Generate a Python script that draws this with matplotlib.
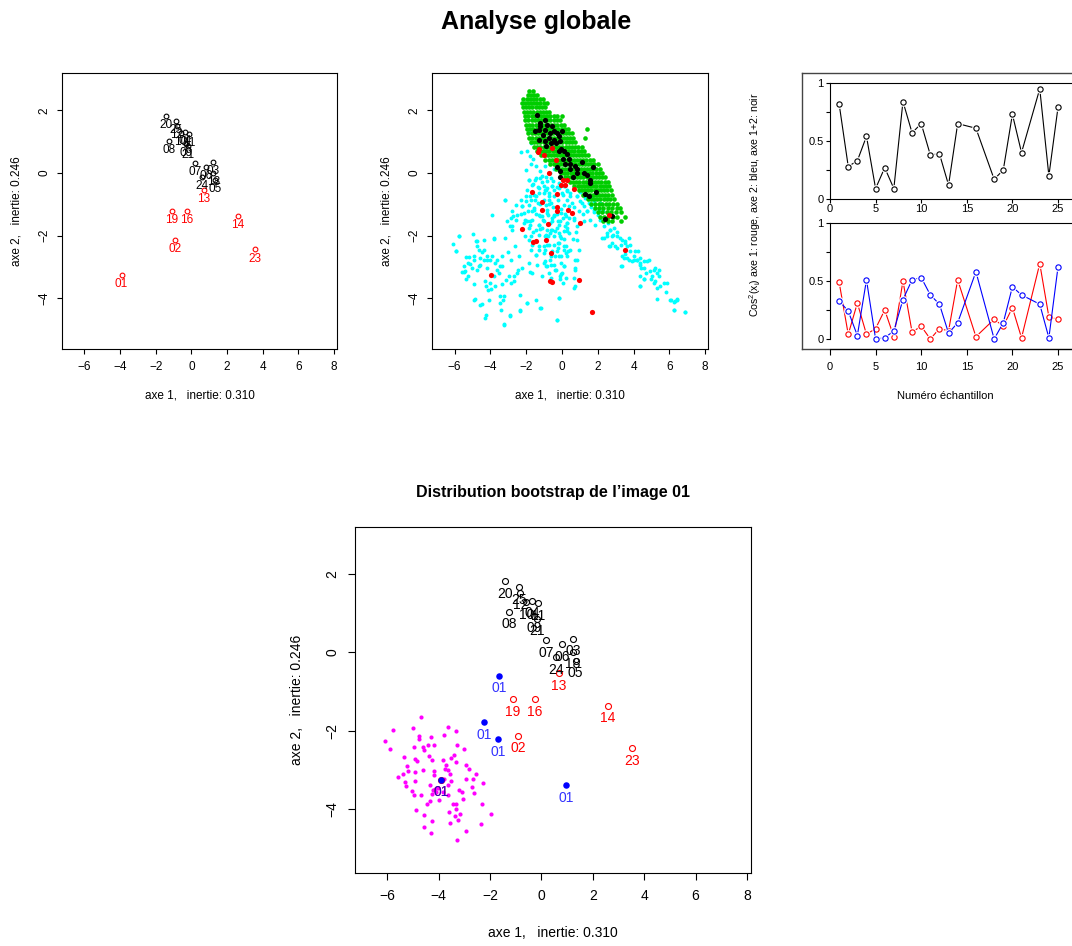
import numpy as np
import matplotlib
matplotlib.use("Agg")
import matplotlib.pyplot as plt

plt.rcParams['font.family'] = ['Liberation Sans', 'DejaVu Sans']
plt.rcParams['mathtext.default'] = 'regular'

W, H = 1072, 946

# --- images: name, coordinates on factorial axes 1 and 2, red = atypical
names = ['01', '02', '03', '04', '05', '06', '07', '08', '09', '10', '11',
         '12', '13', '14', '16', '18', '19', '20', '21', '23', '24', '25']
num = [1, 2, 3, 4, 5, 6, 7, 8, 9, 10, 11, 12, 13, 14, 16, 18, 19, 20, 21, 23, 24, 25]
axe1 = [-3.92, -0.90, 1.22, -0.35, 1.33, 0.81, 0.19, -1.26, -0.30, -0.59, -0.12,
        -0.82, 0.68, 2.59, -0.25, 1.22, -1.11, -1.43, -0.18, 3.54, 0.58, -0.87]
axe2 = [-3.25, -2.13, 0.35, 1.31, -0.22, 0.20, 0.31, 1.03, 0.93, 1.28, 1.25,
        1.51, -0.54, -1.36, -1.20, 0.01, -1.20, 1.81, 0.85, -2.44, -0.13, 1.66]
red = ['01', '02', '13', '14', '16', '19', '23']

# --- cos2 per image
cos_ax1 = [0.49, 0.04, 0.31, 0.04, 0.09, 0.25, 0.02, 0.50, 0.06, 0.11, 0.00,
           0.09, 0.07, 0.51, 0.02, 0.17, 0.11, 0.27, 0.01, 0.65, 0.19, 0.17]
cos_ax2 = [0.33, 0.24, 0.03, 0.51, 0.00, 0.01, 0.07, 0.34, 0.51, 0.53, 0.38,
           0.30, 0.05, 0.14, 0.58, 0.00, 0.14, 0.45, 0.38, 0.30, 0.01, 0.62]
cos_12 = [0.82, 0.28, 0.33, 0.54, 0.09, 0.27, 0.09, 0.84, 0.57, 0.65, 0.38,
          0.39, 0.12, 0.65, 0.61, 0.17, 0.25, 0.73, 0.40, 0.95, 0.20, 0.79]

# --- bootstrap replicates, global view
cyan_pts = [
    (-2.29, 0.67), (-1.43, 0.21), (-1.77, 0.55), (-1.49, -0.21), (-1.82, -0.21), (-1.21, -0.16),
    (-0.88, -0.14), (-0.65, 0.00), (-0.93, 0.21), (-0.43, 0.11), (-1.96, -0.53), (-1.77, -0.74),
    (-1.55, -0.72), (-1.30, -0.64), (-1.02, -0.64), (-0.84, -0.48), (-0.56, -0.43), (-0.19, -0.48),
    (0.09, -0.43), (0.28, -0.59), (0.47, -0.74), (0.84, -0.74), (1.02, -0.90), (1.21, -1.06),
    (1.49, -0.96), (1.77, -0.90), (2.05, -1.17), (2.14, -1.49), (2.33, -1.70), (2.70, -1.81),
    (2.85, -1.99), (3.07, -2.02), (3.35, -2.13), (3.54, -2.23), (3.63, -2.34), (3.82, -2.50),
    (4.00, -2.66), (4.19, -2.77), (4.38, -2.87), (4.56, -2.82), (4.75, -2.82), (4.23, -2.50),
    (4.93, -3.14), (5.31, -3.19), (5.12, -3.51), (5.49, -3.62), (5.68, -3.51), (6.05, -4.04),
    (6.42, -4.04), (6.24, -4.36), (6.89, -4.44), (4.38, -3.62), (4.56, -3.40), (3.30, -2.98),
    (3.44, -2.71), (3.72, -2.77), (2.79, -2.23), (2.98, -2.34), (2.51, -2.02), (2.33, -2.07),
    (2.70, -2.34), (-1.82, 1.30), (-1.96, 0.69), (-1.75, 0.95),
    (-6.09, -2.27), (-5.90, -2.50), (-5.77, -2.00), (-5.59, -3.17), (-5.40, -3.14), (-5.34, -3.40),
    (-5.21, -2.69), (-4.97, -1.94), (-4.93, -3.56), (-4.90, -4.04), (-4.80, -2.18), (-4.75, -2.34),
    (-4.66, -2.45), (-4.56, -4.20), (-4.47, -2.53), (-4.38, -2.15), (-4.32, -4.63), (-4.28, -3.44),
    (-4.19, -3.03), (-4.15, -3.75), (-4.10, -4.04), (-4.00, -3.51), (-3.91, -1.34), (-3.82, -2.07),
    (-3.72, -2.87), (-3.63, -3.09), (-3.54, -3.19), (-3.44, -3.94), (-3.41, -4.36), (-3.35, -2.66),
    (-3.30, -4.04), (-3.26, -4.84), (-3.17, -0.85), (-3.11, -3.43), (-3.00, -2.51), (-2.92, -4.58),
    (-2.89, -1.70), (-2.83, -3.51), (-2.74, -1.38), (-2.61, -2.34), (-2.51, -3.19), (-2.48, -3.09),
    (-2.36, -3.89), (-2.33, -4.39), (-2.23, -1.06), (-2.14, -1.60), (-2.09, -1.49), (-1.96, -4.15),
    (-1.86, -2.13), (-1.81, -1.65), (-1.77, -3.17), (-1.71, -2.45), (-1.58, -1.17), (-1.43, -2.61),
    (-1.40, -2.93), (-1.30, -1.65), (-1.21, -1.38), (-1.12, -3.30), (-1.02, -2.34), (-0.93, -2.82),
    (-0.84, -2.98), (-0.80, -2.02), (-0.74, -3.19), (-0.69, -1.60), (-0.65, -1.92), (-0.61, -2.93),
    (-0.56, -2.50), (-0.47, -2.29), (-0.37, -2.66), (-0.32, -3.09), (-0.28, -4.68), (-0.24, -2.23),
    (-0.19, -3.99), (-0.13, -3.40), (-0.06, -2.66), (0.00, -3.19), (0.06, -3.51), (0.09, -2.98),
    (0.13, -2.34), (0.19, -1.70), (0.28, -2.66), (0.32, -2.50), (0.47, -2.45), (0.65, -3.67),
    (0.74, -3.09), (0.84, -2.77), (0.93, -2.45), (-1.15, -4.31), (-1.43, -4.04), (-1.77, -1.54),
    (-2.05, -2.02), (-2.23, -3.03), (-2.42, -2.66), (-2.70, -3.30), (-2.79, -1.81), (-3.07, -1.54),
    (-3.17, -2.07), (-3.44, -2.98), (-3.72, -3.62), (-3.82, -3.30), (-3.91, -2.64), (-4.00, -2.77),
    (-4.19, -2.64), (-4.38, -2.77), (-4.56, -2.71), (-4.60, -2.93), (-4.75, -3.09), (-4.93, -2.66),
    (-5.12, -2.90), (-5.27, -3.30), (-5.49, -2.98),
    (-1.60, -0.35), (-1.35, -0.45), (-1.10, -0.30), (-0.95, -0.55), (-0.70, -0.65), (-0.45, -0.75),
    (-0.20, -0.85), (0.05, -0.70), (0.30, -0.85), (0.55, -0.95), (0.70, -1.10), (0.95, -1.20),
    (1.20, -1.30), (1.40, -1.20), (1.60, -1.10), (1.80, -1.25), (2.00, -1.35), (-1.50, -0.85),
    (-1.25, -1.00), (-1.00, -0.85), (-0.75, -1.00), (-0.50, -1.10), (-0.30, -1.30), (-0.05, -1.15),
    (0.15, -1.30), (0.40, -1.45), (0.65, -1.50), (-1.45, -1.30), (-1.05, -1.50), (-0.80, -1.35),
    (-0.55, -1.45), (-0.20, -1.55), (0.05, -1.45), (0.30, -1.75), (-1.60, -1.90), (-1.20, -1.80),
    (-0.95, -2.00), (-0.40, -1.85), (-0.10, -2.00), (0.10, -2.10), (-1.30, -2.45), (-0.75, -2.30),
    (-0.20, -2.40), (0.60, -2.10), (0.80, -1.90), (-2.00, -0.90), (-2.30, -1.30), (-1.90, -1.20),
    (1.00, -0.60), (1.30, -0.80), (1.70, -0.75), (2.10, -0.95), (2.30, -1.20), (2.60, -1.60),
    (2.90, -1.75), (3.10, -1.90), (3.30, -2.30), (3.50, -2.60), (3.80, -2.30), (3.90, -2.80),
    (4.10, -2.50), (4.40, -3.05), (4.70, -3.20), (5.00, -3.40), (5.20, -3.05), (5.45, -3.30),
    (5.80, -3.80), (6.30, -4.10), (-1.75, 0.30), (-2.00, 0.10), (-1.60, 0.45), (-1.20, 0.05),
    (-0.50, -0.25), (-0.25, -0.45),
    (-1.84, -0.21), (-1.47, -0.16), (-1.10, -0.11), (-0.82, -0.27), (-0.63, -0.16), (-1.66, -0.37),
    (-1.28, -0.48), (-0.91, -0.53), (-0.54, -0.43), (-2.03, -0.74), (-2.31, -0.85), (-1.75, -0.85),
    (-1.47, -0.74), (-0.73, -0.74), (0.02, -0.64), (0.30, -0.53), (-2.59, -1.01), (-2.22, -1.06),
    (-1.84, -1.01), (-1.56, -1.12), (-1.32, -0.96), (-0.91, -1.01), (-0.63, -0.96), (0.11, -1.01),
    (0.39, -1.06), (-2.77, -1.22), (-2.50, -1.33), (-2.12, -1.28), (-1.66, -1.22), (-1.28, -1.33),
    (-0.82, -1.28), (-0.45, -1.33), (-0.07, -1.28), (0.20, -1.38), (-2.87, -1.44), (-2.59, -1.49),
    (-1.94, -1.54), (-1.66, -1.49), (-1.28, -1.65), (-1.01, -1.54), (-0.54, -1.54), (-0.17, -1.65),
    (0.30, -1.60), (-2.81, -1.70), (-1.84, -1.76), (-1.47, -1.81), (-1.10, -1.76), (-0.63, -1.81),
    (-0.26, -1.76), (0.11, -1.86), (0.39, -1.91), (-1.75, -2.02), (-1.28, -1.97), (-0.91, -1.97),
    (-0.45, -2.02), (-0.07, -2.07), (-1.66, -2.29), (-1.28, -2.34), (-0.82, -2.29), (-0.17, -2.23),
    (0.20, -2.34), (-1.47, -2.61), (-1.01, -2.55), (-0.63, -2.66), (-0.26, -2.50), (0.20, -2.55),
    (-1.84, -2.87), (-0.91, -2.98), (-0.45, -2.93), (-0.07, -2.87), (-1.66, -3.19), (-0.63, -3.35),
    (-0.07, -3.24), (0.20, -3.35),
    (-5.75, -2.00), (-5.90, -2.48), (-5.34, -2.68), (-5.23, -2.89), (-5.47, -3.17), (-4.92, -2.77),
    (-4.64, -2.98), (-4.77, -2.18), (-4.36, -2.45), (-4.17, -2.77), (-3.80, -2.11), (-3.61, -2.77),
    (-3.33, -2.98), (-2.96, -3.30), (-2.68, -3.46), (-3.33, -3.56), (-4.26, -3.62), (-3.98, -3.72),
    (-4.86, -4.02), (-4.49, -4.18), (-3.44, -4.15), (-3.26, -3.94), (-4.26, -4.52), (-2.92, -4.55),
    (-2.35, -4.41), (-3.26, -4.81), (-1.94, -4.15), (-2.87, -2.77), (-5.01, -3.03), (-3.18, -0.85),
    (-1.02, -0.43), (-0.74, -0.85), (-0.47, -0.53), (-0.19, -0.32), (0.19, -0.43), (0.47, -0.64),
    (0.84, -0.74), (1.12, -0.96), (1.40, -1.22), (1.77, -1.17), (1.58, -1.49), (1.86, -1.65),
    (-0.84, -1.17), (-0.47, -1.38), (-0.09, -1.54), (0.28, -1.60), (0.65, -1.44), (-0.56, -1.81),
    (-0.19, -1.91), (0.28, -1.86), (0.84, -2.13), (2.23, -2.07), (2.51, -1.91), (2.70, -1.81),
    (2.79, -2.02), (3.26, -2.07), (3.54, -2.18), (3.72, -2.07), (2.61, -2.34), (3.07, -2.39),
    (3.35, -2.66), (3.63, -2.71), (4.00, -2.77), (4.19, -2.77), (4.38, -2.71), (4.84, -2.77),
    (3.35, -2.98), (4.38, -2.93), (4.56, -3.03), (4.38, -3.30), (4.56, -3.40), (5.12, -3.09),
    (5.40, -3.09), (5.03, -3.30), (5.21, -3.46), (5.31, -3.67), (5.87, -3.51), (4.38, -3.62),
    (5.31, -4.02), (6.09, -4.04), (6.42, -4.02), (6.24, -4.13), (6.24, -4.39), (6.89, -4.44),
    (-1.12, -1.38), (-0.84, -1.81), (-0.93, -2.45), (-1.02, -2.87), (-0.65, -2.77), (-0.19, -2.66),
    (0.09, -2.45), (0.09, -2.98), (-0.37, -3.09), (-0.09, -3.30), (0.74, -2.77), (0.74, -3.03),
    (0.65, -3.35), (0.74, -3.62), (-0.19, -3.99), (-0.28, -4.68), (-1.21, -4.31), (0.84, -1.70),
    (1.21, -1.54),
]

# green cloud: rows of (axe2, [axe1 values]) estimated across the dense band
green_rows = [
    (2.62, [-1.85, -1.62]),
    (2.50, [-1.92, -1.75, -1.58, -1.40]),
    (2.37, [-2.15, -1.98, -1.80, -1.62, -1.45, -1.25, -1.05]),
    (2.24, [-2.25, -2.08, -1.90, -1.72, -1.55, -1.38, -1.20, -1.02, -0.86]),
    (2.10, [-2.18, -2.00, -1.83, -1.65, -1.47, -1.30, -1.12, -0.95]),
    (1.96, [-2.12, -1.95, -1.77, -1.60, -1.42, -1.25, -1.07, -0.90, -0.72]),
    (1.82, [-2.05, -1.88, -1.70, -1.52, -1.35, -1.17, -1.00, -0.82, -0.65, -0.47, -0.28, 0.00]),
    (1.68, [-2.05, -1.87, -1.70, -1.52, -1.35, -1.17, -1.00, -0.82, -0.65, -0.47, -0.30, -0.12]),
    (1.54, [-2.00, -1.82, -1.65, -1.47, -1.30, -1.12, -0.95, -0.77, -0.60, -0.42, -0.25, -0.07, 0.12]),
    (1.40, [-1.95, -1.77, -1.60, -1.42, -1.25, -1.07, -0.90, -0.72, -0.55, -0.37, -0.20, -0.02,
            0.15, 0.35, 1.40]),
    (1.26, [-1.88, -1.70, -1.53, -1.35, -1.18, -1.00, -0.83, -0.65, -0.48, -0.30, -0.13, 0.05,
            0.22, 0.40, 0.58]),
    (1.12, [-1.82, -1.65, -1.47, -1.30, -1.12, -0.95, -0.77, -0.60, -0.42, -0.25, -0.07, 0.10,
            0.28, 0.45, 0.63, 1.30]),
    (0.98, [-1.72, -1.55, -1.37, -1.20, -1.02, -0.85, -0.67, -0.50, -0.32, -0.15, 0.03, 0.20,
            0.38, 0.55, 0.73]),
    (0.84, [-1.55, -1.38, -1.20, -1.03, -0.85, -0.68, -0.50, -0.33, -0.15, 0.02, 0.20, 0.37,
            0.55, 0.72, 0.90, 1.10]),
    (0.70, [-1.40, -1.22, -1.05, -0.87, -0.70, -0.52, -0.35, -0.17, 0.00, 0.18, 0.35, 0.53,
            0.70, 0.88, 1.05, 1.25]),
    (0.56, [-1.15, -0.97, -0.80, -0.62, -0.45, -0.27, -0.10, 0.08, 0.25, 0.43, 0.60, 0.78,
            0.95, 1.13, 1.30, 1.48]),
    (0.42, [-0.92, -0.75, -0.57, -0.40, -0.22, -0.05, 0.13, 0.30, 0.48, 0.65, 0.83, 1.00,
            1.18, 1.35, 1.55, 1.72]),
    (0.28, [-0.65, -0.47, -0.30, -0.12, 0.05, 0.23, 0.40, 0.58, 0.75, 0.93, 1.10, 1.28,
            1.45, 1.63, 1.80, 2.00]),
    (0.14, [-0.35, -0.17, 0.00, 0.18, 0.35, 0.53, 0.70, 0.88, 1.05, 1.23, 1.40, 1.58,
            1.75, 1.93, 2.12]),
    (0.00, [-0.05, 0.13, 0.30, 0.48, 0.65, 0.83, 1.00, 1.18, 1.35, 1.53, 1.70, 1.88, 2.05, 2.25]),
    (-0.14, [0.15, 0.33, 0.50, 0.68, 0.85, 1.03, 1.20, 1.38, 1.55, 1.73, 1.90, 2.08, 2.25, 2.42]),
    (-0.28, [0.45, 0.62, 0.80, 0.97, 1.15, 1.32, 1.50, 1.67, 1.85, 2.02, 2.20, 2.38, 2.55]),
    (-0.42, [0.70, 0.88, 1.05, 1.23, 1.40, 1.58, 1.75, 1.93, 2.10, 2.28, 2.45, 2.65]),
    (-0.56, [0.95, 1.12, 1.30, 1.47, 1.65, 1.82, 2.00, 2.17, 2.35, 2.52, 2.72]),
    (-0.70, [1.20, 1.38, 1.55, 1.73, 1.90, 2.08, 2.25, 2.43, 2.60, 2.80]),
    (-0.84, [1.45, 1.63, 1.80, 1.98, 2.15, 2.33, 2.50, 2.70, 2.92]),
    (-0.98, [1.65, 1.85, 2.05, 2.25, 2.45, 2.65, 2.88, 3.05]),
    (-1.12, [1.85, 2.05, 2.30, 2.55, 2.80, 3.05, 3.25]),
    (-1.26, [2.00, 2.25, 2.50, 2.75, 3.00, 3.30]),
    (-1.40, [2.10, 2.35, 2.60, 2.85, 3.10, 3.55]),
    (-1.52, [2.30, 2.55, 2.80, 3.30]),
]

black_pts = [
    (-1.40, 1.84), (-1.21, 1.60), (-0.93, 1.68), (-0.84, 1.54), (-1.53, 1.35), (-1.30, 1.38),
    (-1.27, 1.06), (-1.06, 1.22), (-0.93, 1.38), (-0.65, 1.28), (-0.47, 1.33), (-0.28, 1.28),
    (-0.19, 1.17), (-0.43, 1.06), (-0.74, 1.12), (-0.88, 0.87), (-0.61, 0.94), (-0.32, 0.94),
    (-0.09, 1.01), (-0.06, 0.77), (-0.19, 0.69), (0.09, 0.69), (0.28, 0.59), (0.06, 0.45),
    (0.41, 0.43), (0.19, 0.29), (0.47, 0.27), (-0.28, 0.18), (-0.13, 0.07), (0.74, 0.21),
    (0.84, 0.11), (1.14, 0.35), (1.73, 0.20), (1.25, 0.00), (1.40, -0.05), (1.55, -0.21),
    (1.58, -0.32), (-0.09, -0.13), (0.61, -0.14), (1.27, -0.68), (1.51, -0.74), (1.88, -0.61),
    (2.40, -1.47), (2.81, -1.39), (0.47, 0.11), (0.84, 0.00), (-1.21, 1.49), (-0.56, 1.49),
    (0.00, 1.33), (-0.93, 1.01),
]

red_pts = [
    (-1.30, 0.78), (-1.34, 0.67), (-0.54, 0.79), (-0.99, 0.56), (-0.34, 0.40), (-0.74, 0.00),
    (0.06, -0.21), (0.28, -0.21), (-0.04, -0.39), (0.19, -0.39), (0.69, -0.52), (-1.66, -0.60),
    (-0.30, -0.66), (-1.12, -0.94), (-1.12, -1.19), (-0.26, -1.09), (-0.26, -1.20), (0.32, -1.19),
    (0.54, -1.29), (-0.80, -1.63), (1.02, -1.59), (-2.23, -1.80), (-0.88, -2.14), (-1.64, -2.21),
    (-1.47, -2.18), (-0.60, -2.56), (-3.95, -3.27), (-0.65, -3.44), (-0.54, -3.49), (0.95, -3.41),
    (1.69, -4.43), (2.61, -1.35), (3.54, -2.45),
]

# --- bootstrap distribution of image 01
boot01_x = [-1.66, -2.23, -1.69, 0.95, -3.92]
boot01_y = [-0.60, -1.78, -2.21, -3.39, -3.25]
magenta_pts = [
    (-4.69, -1.65), (-5.78, -1.99), (-6.08, -2.26), (-5.90, -2.47), (-4.99, -1.93), (-4.77, -2.13),
    (-4.75, -2.21), (-4.32, -2.15), (-4.19, -2.36), (-4.40, -2.37), (-3.81, -2.10), (-3.63, -1.89),
    (-3.31, -2.00), (-4.63, -2.40), (-4.56, -2.48), (-4.95, -2.42), (-5.34, -2.67), (-4.94, -2.73),
    (-4.86, -2.78), (-4.38, -2.64), (-4.28, -2.75), (-3.84, -2.75), (-3.54, -2.69), (-3.40, -2.61),
    (-3.27, -2.36), (-3.02, -2.47), (-3.71, -2.88), (-3.76, -2.96), (-3.63, -2.99), (-5.24, -2.90),
    (-5.19, -3.02), (-5.39, -3.10), (-5.60, -3.17), (-4.91, -3.05), (-4.62, -2.99), (-4.19, -3.02),
    (-4.20, -3.13), (-3.57, -3.09), (-3.31, -2.80), (-2.92, -2.86), (-2.82, -2.97), (-2.56, -3.09),
    (-5.33, -3.30), (-5.29, -3.40), (-4.91, -3.27), (-4.33, -3.37), (-4.24, -3.51), (-4.16, -3.49),
    (-4.01, -3.45), (-3.65, -3.38), (-3.85, -3.55), (-3.62, -3.64), (-3.22, -3.51), (-3.08, -3.57),
    (-2.92, -3.23), (-2.66, -3.23), (-2.70, -3.43), (-2.62, -3.58), (-2.27, -3.33), (-5.03, -3.54),
    (-4.98, -3.63), (-4.68, -3.63), (-4.28, -3.62), (-3.98, -3.75), (-4.47, -3.87), (-4.34, -3.79),
    (-3.46, -3.86), (-3.31, -3.86), (-3.33, -3.99), (-3.59, -4.07), (-3.18, -4.11), (-2.30, -3.87),
    (-4.88, -4.02), (-4.56, -4.15), (-4.25, -4.29), (-4.58, -4.46), (-4.29, -4.59), (-3.55, -4.35),
    (-3.35, -4.17), (-3.23, -4.28), (-2.35, -4.38), (-2.92, -4.54), (-1.96, -4.12), (-3.30, -4.78),
    (-4.09, -3.55), (-3.88, -3.29), (-3.53, -3.27), (-3.04, -3.74), (-3.81, -3.22),
]

xticks = [-6, -4, -2, 0, 2, 4, 6, 8]
yticks = [-4, -2, 0, 2]
xlim = (-7.26, 8.16)
ylim = (-5.62, 3.19)
xlab = 'axe 1,   inertie: 0.310'
ylab = 'axe 2,   inertie: 0.246'

fig = plt.figure(figsize=(W / 100, H / 100), dpi=100)


def px_axes(l, t, r, b):
    return fig.add_axes([l / W, 1 - b / H, (r - l) / W, (b - t) / H])


def setup_factor_axes(ax, fs, tl, pad, xl_off, yl_off):
    ax.set_xlim(*xlim)
    ax.set_ylim(*ylim)
    ax.set_xticks(xticks)
    ax.set_yticks(yticks)
    ax.tick_params(labelsize=fs, length=tl, width=0.8, pad=pad)
    for lab in ax.get_yticklabels():
        lab.set_rotation(90)
        lab.set_va('center')
    for s in ax.spines.values():
        s.set_linewidth(0.8)
    ax.text(0.5, xl_off, xlab, transform=ax.transAxes, ha='center', va='center', fontsize=fs)
    ax.text(yl_off, 0.5, ylab, transform=ax.transAxes, ha='center', va='center',
            rotation=90, fontsize=fs)


def draw_images(ax, ms, fs, off):
    for n, x, y in zip(names, axe1, axe2):
        c = 'red' if n in red else 'black'
        ax.plot(x, y, 'o', ms=ms, mfc='none', mec=c, mew=0.8, zorder=5)
        ax.annotate(n, (x, y), xytext=(0, -off), textcoords='offset points',
                    ha='center', va='center', fontsize=fs, color=c, zorder=6)


fig.text(0.5, 1 - 22 / H, 'Analyse globale', ha='center', va='center',
         fontsize=18, fontweight='bold')

# panel 1: images on the factorial plane
ax1 = px_axes(62, 73, 337, 349)
setup_factor_axes(ax1, 8.5, 3.6, 5, -0.17, -0.165)
draw_images(ax1, 3.4, 8.5, 6.6)

# panel 2: all bootstrap replicates
ax2 = px_axes(432, 73, 708, 349)
setup_factor_axes(ax2, 8.5, 3.6, 5, -0.17, -0.165)
cy = np.array(cyan_pts)
ax2.scatter(cy[:, 0], cy[:, 1], s=8, c='cyan', linewidths=0, zorder=1)
gx = [x for y, xs in green_rows for x in xs]
gy = [y for y, xs in green_rows for x in xs]
ax2.scatter(gx, gy, s=11, c='#00CD00', linewidths=0, zorder=2)
bk = np.array(black_pts)
ax2.scatter(bk[:, 0], bk[:, 1], s=14, c='black', linewidths=0, zorder=3)
rd = np.array(red_pts)
ax2.scatter(rd[:, 0], rd[:, 1], s=14, c='red', linewidths=0, zorder=4)

# panel 3: cos2 quality of representation
outer = px_axes(802, 73, 1100, 349)
outer.set_xticks([])
outer.set_yticks([])
for s in outer.spines.values():
    s.set_linewidth(1.0)
    s.set_color('#444444')
outer.patch.set_alpha(0)

xmax_in = (1100 - 830) / 9.12


def type_b(ax, x, y, c, z):
    ax.plot(x, y, color=c, lw=0.8, zorder=z, clip_on=False)
    ax.plot(x, y, 'o', ms=6.3, mfc='white', mec='none', zorder=z + 0.1, clip_on=False)
    ax.plot(x, y, 'o', ms=3.8, mfc='none', mec=c, mew=0.8, zorder=z + 0.2, clip_on=False)


def setup_cos_axes(ax):
    ax.set_xlim(0, xmax_in)
    ax.set_ylim(0, 1)
    ax.set_yticks([0, 0.5, 1])
    ax.set_yticklabels(['0', '0.5', '1'])
    ax.set_yticks([0.25, 0.75], minor=True)
    ax.set_xticks([0, 5, 10, 15, 20, 25])
    ax.tick_params(labelsize=8, length=3, width=0.8, pad=1.5)
    ax.tick_params(which='minor', length=3, width=0.8)
    ax.patch.set_alpha(0)
    for s in ax.spines.values():
        s.set_linewidth(0.8)


axc1 = px_axes(830, 83, 1100, 199)
setup_cos_axes(axc1)
type_b(axc1, num, cos_12, 'black', 3)
axc1.tick_params(axis='x', pad=0.5)

axc2 = px_axes(830, 223, 1100, 339)
setup_cos_axes(axc2)
axc2.spines['bottom'].set_position(('outward', 7.2))
axc2.tick_params(axis='x', length=4, pad=5)
type_b(axc2, num, cos_ax1, 'red', 3)
type_b(axc2, num, cos_ax2, 'blue', 4)

fig.text(755 / W, 1 - 205 / H,
         'Cos$^{2}$(x$_{i}$) axe 1: rouge, axe 2: bleu, axe 1+2: noir',
         rotation=90, ha='center', va='center', fontsize=7.6)
fig.text(945 / W, 1 - 396 / H, 'Numéro échantillon', ha='center', va='center', fontsize=8)

# bottom panel: bootstrap distribution of image 01
fig.text(553 / W, 1 - 492 / H, 'Distribution bootstrap de l’image 01',
         ha='center', va='center', fontsize=11.5, fontweight='bold')
ax3 = px_axes(355, 527, 751, 873)
setup_factor_axes(ax3, 10, 5, 6.5, -0.174, -0.147)
mg = np.array(magenta_pts)
ax3.scatter(mg[:, 0], mg[:, 1], s=9, c='magenta', linewidths=0, zorder=2)
draw_images(ax3, 4.3, 10, 9)
ax3.scatter(boot01_x, boot01_y, s=22, c='blue', linewidths=0, zorder=7)
for x, y in zip(boot01_x, boot01_y):
    ax3.annotate('01', (x, y), xytext=(0, -9), textcoords='offset points',
                 ha='center', va='center', fontsize=10, color='blue', alpha=0.8, zorder=8)

fig.savefig('out.png', dpi=100)
